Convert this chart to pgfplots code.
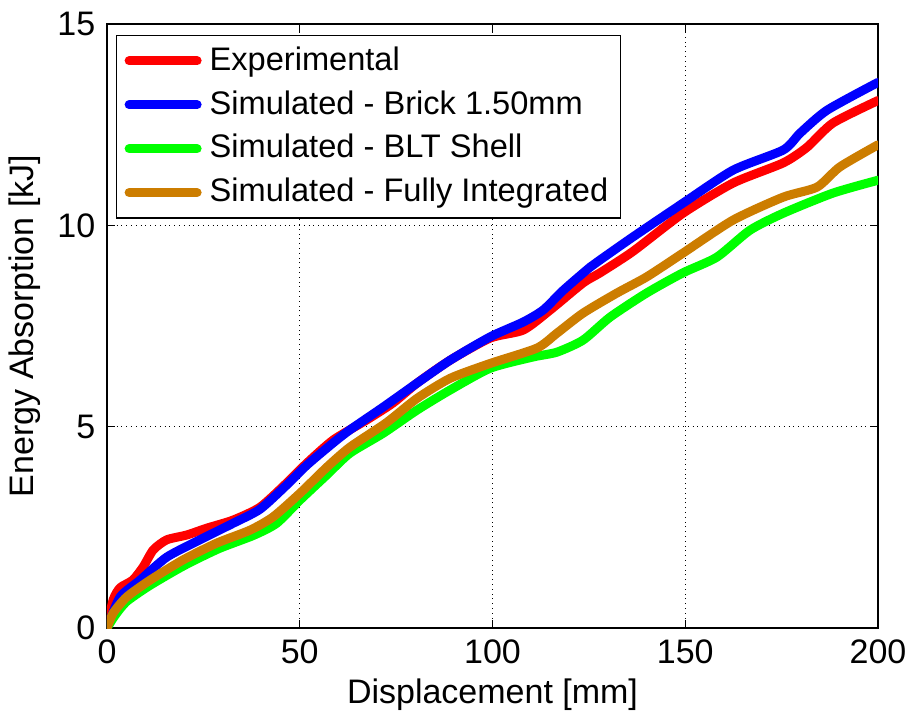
\documentclass[border=0pt]{standalone}
\usepackage{fontspec}
\setmainfont{Liberation Sans}
\usepackage{pgfplots}
\pgfplotsset{compat=1.18}
\definecolor{corange}{RGB}{204,125,0}
\begin{document}
\fontsize{17pt}{20pt}\selectfont
\begin{tikzpicture}
\begin{axis}[
  name=ax,
  scale only axis,
  width=385.5pt, height=302pt,
  xmin=0, xmax=200, ymin=0, ymax=15,
  xtick={0,50,100,150,200},
  ytick={0,5,10,15},
  /pgf/number format/assume math mode=true,
  tick label style={font=\fontsize{17pt}{20pt}\selectfont},
  label style={font=\fontsize{17pt}{20pt}\selectfont},
  xlabel={Displacement [mm]},
  ylabel={Energy Absorption [kJ]},
  xlabel style={yshift=4pt},
  ylabel style={yshift=-3pt},
  grid=major,
  major grid style={black, dotted, line width=0.6pt},
  axis line style={black, line width=0.6pt},
  tick style={black, line width=0.6pt},
  major tick length=4pt,
  tick align=inside,
  legend style={at={(0.0117,0.982)}, anchor=north west, draw=black, line width=0.6pt,
    font=\fontsize{16.3pt}{20pt}\selectfont, row sep=3.6pt, inner xsep=4pt, inner ysep=3.5pt},
  legend cell align=left,
  legend image code/.code={\draw[#1] (0pt,0pt) -- (34pt,0pt); \path (36pt,0pt);},
  every axis plot/.append style={line width=4.5pt, line join=round, line cap=round, smooth, tension=0.4},
]
\addplot[red] coordinates {
(0,0) (1.6,0.70) (3.4,1.0) (6.7,1.19) (9.4,1.52) (12,1.94) (15.5,2.19) (20.7,2.31)
(25.9,2.48) (32.7,2.68) (39.7,3.0) (46.6,3.6) (51.9,4.1) (58.7,4.67) (67.4,5.17)
(74.2,5.59) (80.4,6.08) (89,6.65) (99.4,7.2) (108,7.4) (115,7.9) (123.5,8.57)
(127.9,8.82) (136.4,9.35) (149.4,10.3) (162.4,11.05) (175.4,11.55) (181.6,11.94)
(188.3,12.54) (200,13.1)};
\addlegendentry{Experimental}
\addplot[blue] coordinates {
(0,0) (3.4,0.77) (8.6,1.19) (15.5,1.76) (24.1,2.19) (32.7,2.6) (39.7,2.95) (46.6,3.55)
(51.9,4.05) (58.7,4.6) (63,4.92) (71.7,5.49) (80.4,6.08) (89,6.65) (99.4,7.23)
(108,7.6) (113.2,7.9) (118.4,8.39) (125.3,8.96) (127.9,9.14) (136.4,9.71)
(149.4,10.55) (162.4,11.37) (175.4,11.87) (179.8,12.29) (186.8,12.86) (200,13.55)};
\addlegendentry{Simulated - Brick 1.50mm}
\addplot[green] coordinates {
(0,0) (2,0.3) (5,0.65) (11,1.05) (20,1.55) (29,1.97) (38,2.3) (44,2.6) (50.1,3.18)
(57,3.8) (63,4.34) (71.7,4.84) (80.4,5.41) (89,5.91) (99.4,6.45) (110.5,6.73)
(116.7,6.85) (123.5,7.15) (130.5,7.72) (140,8.32) (149.4,8.82) (158.2,9.21)
(166.8,9.88) (175.4,10.3) (188.3,10.8) (200,11.12)};
\addlegendentry{Simulated - BLT Shell}
\addplot[corange] coordinates {
(0,0) (1.6,0.37) (5.1,0.77) (11.2,1.19) (19.7,1.69) (28.5,2.11) (37.1,2.43)
(43.1,2.76) (50.1,3.35) (57.1,4.0) (63,4.49) (72.5,5.1) (80.4,5.7) (89,6.2)
(99.4,6.57) (111.5,6.95) (116.7,7.32) (123.5,7.82) (132.3,8.32) (140,8.72)
(149.4,9.31) (162.4,10.13) (175.4,10.7) (184.2,10.95) (190.1,11.45) (200,12.0)};
\addlegendentry{Simulated - Fully Integrated}
\end{axis}
\pgfresetboundingbox
\path (ax.south west) ++(-53.5pt,-42.5pt) coordinate (bbA);
\path (ax.north east) ++(16.5pt,12pt) coordinate (bbB);
\useasboundingbox (bbA) rectangle (bbB);
\end{tikzpicture}
\end{document}
